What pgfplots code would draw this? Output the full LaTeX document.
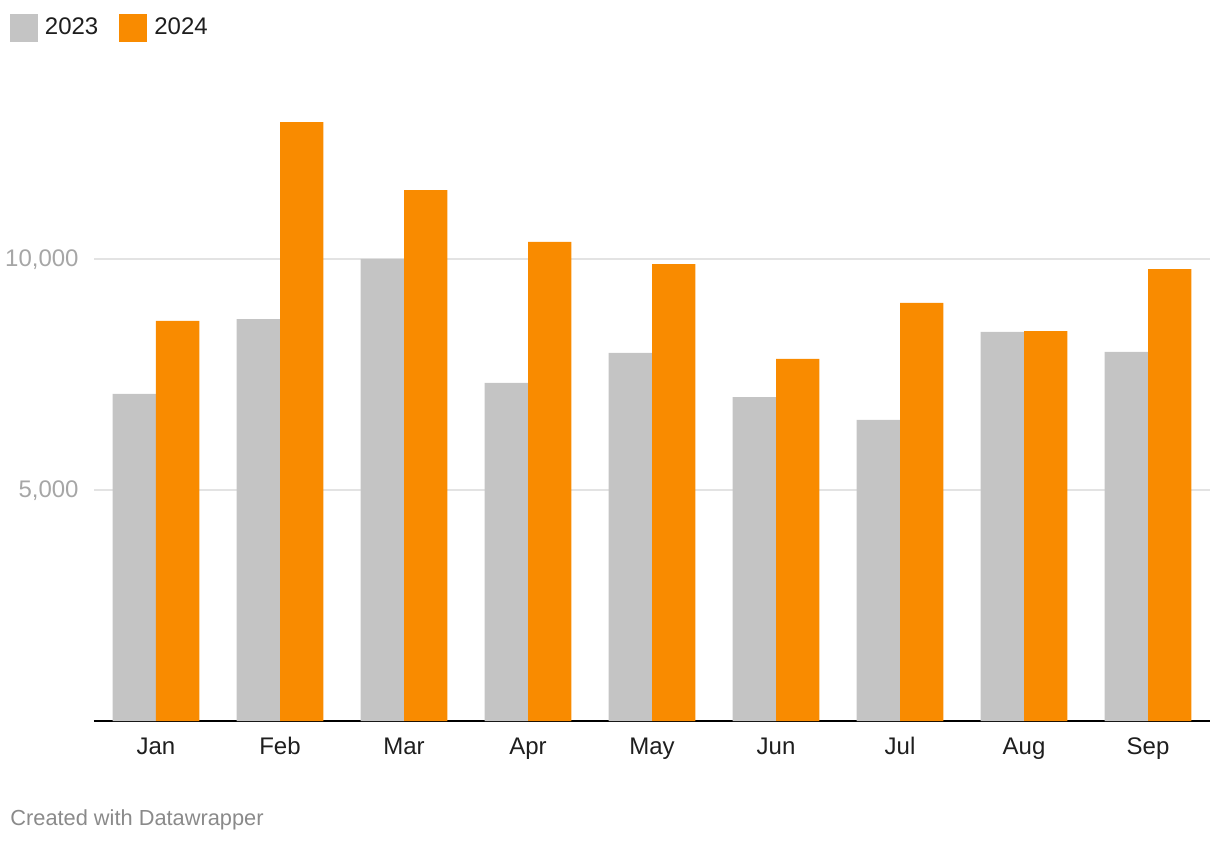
\documentclass[border=0pt]{standalone}
\usepackage{pgfplots}
\pgfplotsset{compat=1.18}
\usepackage{fontspec}
\setmainfont{Liberation Sans}
\definecolor{cgrey}{HTML}{C4C4C4}
\definecolor{corange}{HTML}{F98B00}
\definecolor{ticklab}{HTML}{A6A6A6}
\definecolor{gridc}{HTML}{E3E3E3}
\definecolor{footc}{HTML}{8A8A8A}
\definecolor{txt}{HTML}{1E1E1E}
\begin{document}
\begin{tikzpicture}
\path[use as bounding box] (0,0) rectangle (610pt,-422pt);
\begin{axis}[
  at={(47pt,-360.5pt)}, anchor=south west,
  scale only axis, width=558pt, height=311.85pt,
  xmin=-0.5, xmax=8.5, ymin=0, ymax=13500,
  ybar, bar width=0.35,
  axis lines*=left,
  y axis line style={draw=none},
  x axis line style={black, line width=1pt},
  major tick length=0pt,
  xtick={0,1,2,3,4,5,6,7,8},
  xticklabels={Jan,Feb,Mar,Apr,May,Jun,Jul,Aug,Sep},
  ytick={5000,10000},
  ymajorgrids, grid style={gridc, line width=1pt},
  /pgf/number format/assume math mode=true,
  /pgf/number format/1000 sep={,},
  scaled y ticks=false,
  tick label style={font=\fontsize{12}{14}\selectfont},
  xticklabel style={txt, inner sep=0pt, anchor=north, text height=8.6pt, yshift=-8pt},
  yticklabel style={ticklab, inner sep=0pt, anchor=east, xshift=-7.5pt, yshift=-0.5pt},
  legend columns=2,
  legend style={at={(-0.0753,1.1336)}, anchor=north west, draw=none, fill=none,
    inner sep=0pt, outer sep=0pt, font=\fontsize{12}{14}\selectfont\color{txt},
    nodes={inner xsep=3.5pt, inner ysep=0pt},
    /tikz/every even column/.append style={column sep=7pt}},
  legend image code/.code={\fill[#1] (0pt,-7pt) rectangle (14pt,7pt);},
]
\addplot[fill=cgrey, draw=none, bar shift=-0.175] coordinates {
(0,7080) (1,8700) (2,10000) (3,7320) (4,7970) (5,7010) (6,6520) (7,8420) (8,7990)};
\addplot[fill=corange, draw=none, bar shift=0.175] coordinates {
(0,8660) (1,12960) (2,11490) (3,10370) (4,9890) (5,7840) (6,9050) (7,8440) (8,9780)};
\legend{2023,2024}
\end{axis}
\node[anchor=west, inner sep=0pt, footc, font=\fontsize{10.9}{12}\selectfont] at (5pt,-410pt) {Created with Datawrapper};
\end{tikzpicture}
\end{document}
